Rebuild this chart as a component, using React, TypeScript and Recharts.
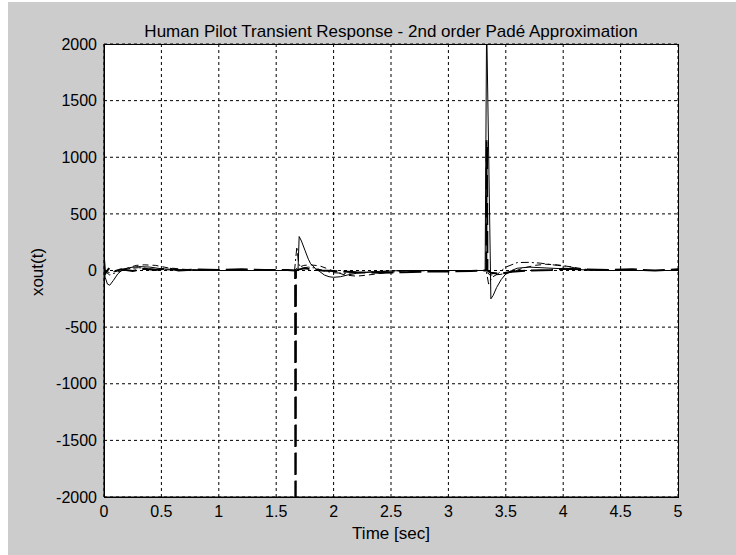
import React from 'react';
import { LineChart, Line, XAxis, YAxis, CartesianGrid } from 'recharts';

const xTicks = [0, 0.5, 1, 1.5, 2, 2.5, 3, 3.5, 4, 4.5, 5];
const yTicks = [-2000, -1500, -1000, -500, 0, 500, 1000, 1500, 2000];

const titleText = 'Human Pilot Transient Response - 2nd order Padé Approximation';
const xLabel = 'Time [sec]';
const yLabel = 'xout(t)';

// thick dashed response
const thickDashed = [
  { t: 0, v: 100 }, { t: 0.01, v: -30 }, { t: 0.04, v: 15 }, { t: 0.08, v: -10 },
  { t: 0.15, v: 10 }, { t: 0.25, v: -5 }, { t: 0.35, v: 15 }, { t: 0.45, v: 5 },
  { t: 0.55, v: 20 }, { t: 0.65, v: 0 }, { t: 0.8, v: 10 }, { t: 1.0, v: 5 },
  { t: 1.2, v: 10 }, { t: 1.4, v: 5 }, { t: 1.6, v: 5 }, { t: 1.665, v: 0 },
  { t: 1.667, v: -2200 }, { t: 1.67, v: -2200 }, { t: 1.672, v: 0 }, { t: 1.7, v: 10 },
  { t: 1.75, v: 20 }, { t: 1.8, v: 10 }, { t: 1.9, v: 0 }, { t: 2.0, v: -5 },
  { t: 2.2, v: -15 }, { t: 2.4, v: -20 }, { t: 2.6, v: -15 }, { t: 2.8, v: -10 },
  { t: 3.0, v: -8 }, { t: 3.2, v: -5 }, { t: 3.33, v: 0 }, { t: 3.333, v: 1150 },
  { t: 3.336, v: 1100 }, { t: 3.34, v: 0 }, { t: 3.37, v: -20 }, { t: 3.45, v: -30 },
  { t: 3.55, v: -10 }, { t: 3.7, v: 0 }, { t: 3.9, v: 5 }, { t: 4.0, v: 15 },
  { t: 4.2, v: 10 }, { t: 4.4, v: 5 }, { t: 4.6, v: 10 }, { t: 4.8, v: 0 }, { t: 5.0, v: 10 },
];

// thin solid response
const thinSolid = [
  { t: 0, v: 0 }, { t: 0.01, v: -60 }, { t: 0.03, v: -120 }, { t: 0.05, v: -130 },
  { t: 0.08, v: -90 }, { t: 0.12, v: -30 }, { t: 0.16, v: 5 }, { t: 0.22, v: 25 },
  { t: 0.3, v: 35 }, { t: 0.4, v: 30 }, { t: 0.5, v: 15 }, { t: 0.7, v: 5 },
  { t: 1.0, v: 0 }, { t: 1.69, v: 0 }, { t: 1.7, v: 300 }, { t: 1.72, v: 260 },
  { t: 1.75, v: 180 }, { t: 1.78, v: 100 }, { t: 1.8, v: 60 }, { t: 1.84, v: 20 },
  { t: 1.88, v: -10 }, { t: 1.92, v: -40 }, { t: 1.96, v: -55 }, { t: 2.0, v: -60 },
  { t: 2.06, v: -55 }, { t: 2.12, v: -40 }, { t: 2.2, v: -25 }, { t: 2.35, v: -10 },
  { t: 2.6, v: 0 }, { t: 3.0, v: 0 }, { t: 3.32, v: 0 }, { t: 3.333, v: 2200 },
  { t: 3.37, v: -250 }, { t: 3.39, v: -220 }, { t: 3.42, v: -150 }, { t: 3.46, v: -80 },
  { t: 3.5, v: -30 }, { t: 3.55, v: 0 }, { t: 3.6, v: 20 }, { t: 3.7, v: 30 },
  { t: 4.0, v: 15 }, { t: 4.3, v: 0 }, { t: 5.0, v: 0 },
];

// thin dashed response
const thinDashed = [
  { t: 0, v: 0 }, { t: 0.05, v: -20 }, { t: 0.12, v: 0 }, { t: 0.2, v: 20 },
  { t: 0.28, v: 45 }, { t: 0.35, v: 50 }, { t: 0.45, v: 45 }, { t: 0.55, v: 25 },
  { t: 0.7, v: 10 }, { t: 1.0, v: 0 }, { t: 1.66, v: 0 }, { t: 1.68, v: 20 },
  { t: 1.74, v: 45 }, { t: 1.8, v: 50 }, { t: 1.88, v: 40 }, { t: 1.95, v: 15 },
  { t: 2.02, v: -15 }, { t: 2.1, v: -40 }, { t: 2.2, v: -50 }, { t: 2.3, v: -40 },
  { t: 2.45, v: -20 }, { t: 2.6, v: -5 }, { t: 3.0, v: 0 }, { t: 3.33, v: 0 },
  { t: 3.36, v: -40 }, { t: 3.45, v: -35 }, { t: 3.55, v: -15 }, { t: 3.65, v: 20 },
  { t: 3.75, v: 45 }, { t: 3.85, v: 55 }, { t: 3.95, v: 50 }, { t: 4.05, v: 35 },
  { t: 4.2, v: 10 }, { t: 4.4, v: 0 }, { t: 5.0, v: 0 },
];

// thin dash-dot response
const thinDashDot = [
  { t: 0, v: 0 }, { t: 0.05, v: -40 }, { t: 0.1, v: -20 }, { t: 0.2, v: 15 },
  { t: 0.3, v: 25 }, { t: 0.45, v: 10 }, { t: 0.7, v: 0 }, { t: 1.66, v: 0 },
  { t: 1.68, v: 210 }, { t: 1.695, v: 60 }, { t: 1.72, v: 20 }, { t: 1.78, v: 30 },
  { t: 1.85, v: 20 }, { t: 1.9, v: 0 }, { t: 2.0, v: -20 }, { t: 2.1, v: -25 },
  { t: 2.3, v: -15 }, { t: 2.6, v: 0 }, { t: 3.33, v: 0 }, { t: 3.35, v: -120 },
  { t: 3.38, v: -60 }, { t: 3.43, v: -30 }, { t: 3.5, v: 30 }, { t: 3.6, v: 70 },
  { t: 3.7, v: 72 }, { t: 3.8, v: 65 }, { t: 3.95, v: 45 }, { t: 4.05, v: 35 },
  { t: 4.15, v: 10 }, { t: 4.3, v: 0 }, { t: 5.0, v: 0 },
];

const FONT = '"Liberation Sans", Arial, sans-serif';
const W = 728;
const H = 553;
const PL = 96;
const PT = 42;
const PW = 574;
const PH = 453;

export default function App() {
  const tickStyle = { fill: '#000', fontSize: 16, fontFamily: FONT };
  return (
    <div style={{ position: 'absolute', left: 8, top: 2, width: W, height: H, background: '#cccccc', overflow: 'hidden' }}>
      <LineChart width={W} height={H} margin={{ top: PT, right: W - PL - PW, bottom: 0, left: 0 }}>
        <CartesianGrid stroke="#000" strokeDasharray="3 3" fill="#fff" fillOpacity={1} />
        <XAxis dataKey="t" type="number" domain={[0, 5]} ticks={xTicks} interval={0}
          allowDataOverflow height={H - PT - PH} tickLine={false} tickSize={0} tickMargin={9}
          axisLine={{ stroke: '#000' }} tick={tickStyle} />
        <XAxis xAxisId="bm" dataKey="t" type="number" domain={[0, 5]} ticks={xTicks} interval={0}
          allowDataOverflow orientation="bottom" mirror height={0} axisLine={false} tick={false}
          tickSize={5} tickLine={{ stroke: '#000' }} />
        <XAxis xAxisId="top" dataKey="t" type="number" domain={[0, 5]} ticks={xTicks} interval={0}
          allowDataOverflow orientation="top" mirror height={0} axisLine={{ stroke: '#000' }} tick={false}
          tickSize={5} tickLine={{ stroke: '#000' }} />
        <YAxis type="number" domain={[-2000, 2000]} ticks={yTicks} interval={0}
          allowDataOverflow width={PL} tickLine={false} tickSize={0} tickMargin={7}
          axisLine={{ stroke: '#000' }} tick={tickStyle} />
        <YAxis yAxisId="lm" type="number" domain={[-2000, 2000]} ticks={yTicks} interval={0}
          allowDataOverflow orientation="left" mirror width={0} axisLine={false} tick={false}
          tickSize={5} tickLine={{ stroke: '#000' }} />
        <YAxis yAxisId="right" type="number" domain={[-2000, 2000]} ticks={yTicks} interval={0}
          allowDataOverflow orientation="right" mirror width={0} axisLine={{ stroke: '#000' }} tick={false}
          tickSize={5} tickLine={{ stroke: '#000' }} />
        <Line data={thickDashed} dataKey="v" type="linear" stroke="#000" strokeWidth={2}
          strokeDasharray="22 6" dot={false} isAnimationActive={false} />
        <Line data={thinSolid} dataKey="v" type="linear" stroke="#000" strokeWidth={1}
          dot={false} isAnimationActive={false} />
        <Line data={thinDashed} dataKey="v" type="linear" stroke="#000" strokeWidth={1}
          strokeDasharray="6 4" dot={false} isAnimationActive={false} />
        <Line data={thinDashDot} dataKey="v" type="linear" stroke="#000" strokeWidth={1}
          strokeDasharray="8 3 2 3" dot={false} isAnimationActive={false} />
        <Line data={thinDashDot} xAxisId="top" yAxisId="right" dataKey="v" type="linear"
          stroke="none" strokeWidth={0} dot={false} legendType="none" isAnimationActive={false} />
        <Line data={thinDashDot} xAxisId="bm" yAxisId="lm" dataKey="v" type="linear"
          stroke="none" strokeWidth={0} dot={false} legendType="none" isAnimationActive={false} />
      </LineChart>
      <div style={{ position: 'absolute', left: PL - 0.5, top: PT - 0.5, width: PW + 1, height: PH + 1,
        border: '1px solid #000', boxSizing: 'border-box', pointerEvents: 'none' }} />
      <div style={{ position: 'absolute', left: PL, width: PW, top: 21, textAlign: 'center',
        fontFamily: FONT, fontSize: 17, lineHeight: '17px', color: '#000', whiteSpace: 'nowrap' }}>
        {titleText}
      </div>
      <div style={{ position: 'absolute', left: PL, width: PW, top: 523, textAlign: 'center',
        fontFamily: FONT, fontSize: 17, lineHeight: '17px', color: '#000', whiteSpace: 'nowrap' }}>
        {xLabel}
      </div>
      <div style={{ position: 'absolute', left: 29, top: 270, transform: 'translate(-50%, -50%) rotate(-90deg)',
        fontFamily: FONT, fontSize: 17, lineHeight: '17px', color: '#000', whiteSpace: 'nowrap' }}>
        {yLabel}
      </div>
    </div>
  );
}
